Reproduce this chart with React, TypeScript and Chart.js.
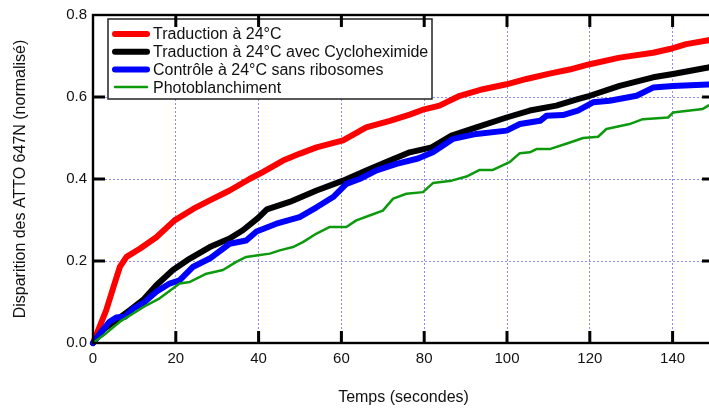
import React, { useEffect, useRef } from 'react';
import { Chart, registerables } from 'chart.js';

Chart.register(...registerables);

const FONT = '"Liberation Sans", Arial, Helvetica, sans-serif';

const seriesLabels = [
  'Traduction à 24°C',
  'Traduction à 24°C avec Cycloheximide',
  'Contrôle à 24°C sans ribosomes',
  'Photoblanchiment',
];
const seriesColors = ['#ff0000', '#000000', '#0000ff', '#0c990c'];
const seriesWidths = [6, 6, 6, 2.5];

const xTickStep = 20;
const xMin = 0;
const xMax = 150;
const yMin = 0;
const yMax = 0.8;
const yTickStep = 0.2;
const xTickValues = [20, 40, 60, 80, 100, 120, 140];
const yTickValues = [0.2, 0.4, 0.6];

const xTitle = 'Temps (secondes)';
const yTitle = 'Disparition des ATTO 647N (normalisé)';

const redT = [0, 1.6, 3.2, 5.2, 6.5, 8.1, 11.3, 15.3, 19.7, 24.2, 28.2, 33, 37.8, 41, 45.9, 50, 54, 60.4, 66, 71.7, 76.5, 80, 83.7, 88.6, 94.2, 99.9, 104.7, 110.3, 115.1, 120, 127.2, 135.3, 139.3, 143.3, 150];
const redV = [0, 0.04, 0.08, 0.145, 0.186, 0.21, 0.23, 0.258, 0.299, 0.327, 0.348, 0.372, 0.4, 0.417, 0.445, 0.462, 0.477, 0.494, 0.526, 0.542, 0.557, 0.57, 0.579, 0.603, 0.619, 0.631, 0.644, 0.657, 0.667, 0.68, 0.696, 0.708, 0.717, 0.729, 0.741];

const blackT = [0, 2.4, 5.6, 8.9, 12.1, 15.3, 19.3, 23.4, 28.2, 33, 36.2, 39.9, 42, 47.5, 54, 60.4, 66, 71.7, 76.5, 81.8, 86.6, 92.6, 99.9, 105.5, 111.9, 117.1, 120, 127.2, 135.3, 140.1, 148.6, 150];
const blackV = [0, 0.032, 0.056, 0.08, 0.105, 0.141, 0.178, 0.206, 0.234, 0.255, 0.275, 0.305, 0.326, 0.344, 0.372, 0.396, 0.421, 0.445, 0.465, 0.477, 0.506, 0.526, 0.55, 0.567, 0.579, 0.595, 0.603, 0.627, 0.648, 0.656, 0.672, 0.675];

const blueT = [0, 2.4, 4, 5.6, 7.7, 9.7, 12.1, 15.3, 18.5, 20.9, 24.2, 28.2, 33, 37, 39.5, 44.3, 49.9, 54, 58, 61.2, 64.4, 68.5, 73.3, 78.5, 82.1, 87, 92.6, 99.9, 103.1, 108, 109.5, 113.5, 117.1, 120.8, 124.8, 131.3, 135.3, 140.1, 150];
const blueV = [0, 0.032, 0.052, 0.062, 0.064, 0.084, 0.097, 0.125, 0.145, 0.153, 0.186, 0.206, 0.242, 0.25, 0.272, 0.291, 0.307, 0.331, 0.356, 0.388, 0.4, 0.421, 0.437, 0.45, 0.465, 0.498, 0.51, 0.518, 0.534, 0.542, 0.554, 0.556, 0.567, 0.587, 0.591, 0.603, 0.623, 0.627, 0.631];

const greenT = [0, 3.2, 6.5, 9.7, 12.9, 16.1, 19.3, 20.9, 23.4, 27.4, 31.4, 34.6, 37, 39.9, 42.7, 45.1, 48.3, 50.7, 54, 57.2, 61.2, 63.6, 66.8, 70, 72.5, 75.7, 79.7, 82.1, 86.6, 90.2, 93.4, 96.6, 100.6, 103.1, 105.5, 107.1, 110.3, 114.3, 118.4, 122, 124, 129.6, 132.8, 138.9, 140.1, 147.3, 148.6, 150];
const greenV = [0, 0.024, 0.052, 0.072, 0.092, 0.109, 0.133, 0.145, 0.149, 0.169, 0.178, 0.198, 0.21, 0.214, 0.218, 0.226, 0.234, 0.246, 0.267, 0.283, 0.283, 0.299, 0.311, 0.323, 0.352, 0.364, 0.368, 0.39, 0.396, 0.406, 0.422, 0.422, 0.441, 0.463, 0.465, 0.473, 0.473, 0.486, 0.5, 0.503, 0.522, 0.534, 0.546, 0.55, 0.562, 0.571, 0.579, 0.58];

const seriesT = [redT, blackT, blueT, greenT];
const seriesV = [redV, blackV, blueV, greenV];

const toPoints = (t: number[], v: number[]) => t.map((x, i) => ({ x, y: v[i] }));

function drawFrame(chart: any) {
  const ctx = chart.ctx;
  const a = chart.chartArea;
  const xs = chart.scales['x'];
  const ys = chart.scales['y'];
  const left = a.left, right = a.right, top = a.top, bottom = a.bottom;
  ctx.save();
  ctx.setLineDash([]);
  ctx.strokeStyle = '#000000';
  ctx.lineCap = 'butt';
  ctx.lineWidth = 3;
  const L = 12;
  for (let i = 0; i < xTickValues.length; i++) {
    const px = xs.getPixelForValue(xTickValues[i]);
    ctx.beginPath();
    ctx.moveTo(px, bottom);
    ctx.lineTo(px, bottom - L);
    ctx.moveTo(px, top);
    ctx.lineTo(px, top + L);
    ctx.stroke();
  }
  for (let i = 0; i < yTickValues.length; i++) {
    const py = ys.getPixelForValue(yTickValues[i]);
    ctx.beginPath();
    ctx.moveTo(left, py);
    ctx.lineTo(left + L, py);
    ctx.moveTo(right, py);
    ctx.lineTo(right - L, py);
    ctx.stroke();
  }
  ctx.lineWidth = 2.4;
  ctx.strokeRect(left, top, right - left, bottom - top);
  ctx.restore();
}

function drawLegend(chart: any) {
  const { ctx, chartArea: a } = chart;
  const bx = a.left + 15;
  const by = a.top + 4;
  const bw = 324;
  const bh = 80;
  ctx.save();
  ctx.setLineDash([]);
  ctx.fillStyle = '#ffffff';
  ctx.fillRect(bx, by, bw, bh);
  ctx.strokeStyle = '#222';
  ctx.lineWidth = 1.5;
  ctx.strokeRect(bx, by, bw, bh);
  ctx.font = `16px ${FONT}`;
  ctx.textBaseline = 'middle';
  ctx.textAlign = 'left';
  const order = [...chart.data.datasets].sort((p: any, q: any) => p.order0 - q.order0);
  order.forEach((ds: any, i: number) => {
    const y = by + 15 + i * 17.7;
    ctx.strokeStyle = ds.borderColor;
    ctx.lineWidth = ds.borderWidth;
    ctx.lineCap = 'round';
    ctx.beginPath();
    ctx.moveTo(bx + 7, y);
    ctx.lineTo(bx + 39, y);
    ctx.stroke();
    ctx.fillStyle = '#111';
    ctx.fillText(ds.label, bx + 45, y + 1);
  });
  ctx.restore();
}

const overlayPlugin = {
  id: 'overlay',
  afterDatasetsDraw(chart: any) {
    drawLegend(chart);
  },
  afterDraw(chart: any) {
    drawFrame(chart);
  },
};

export default function App() {
  const ref = useRef<HTMLCanvasElement | null>(null);

  useEffect(() => {
    if (!ref.current) return;
    const datasets = seriesLabels.map((label, i) => ({
      label,
      order0: i,
      data: toPoints(seriesT[i], seriesV[i]),
      borderColor: seriesColors[i],
      backgroundColor: seriesColors[i],
      borderWidth: seriesWidths[i],
      pointRadius: 0,
      tension: 0,
      fill: false,
      borderCapStyle: 'round',
      borderJoinStyle: 'round',
      clip: false,
    }));
    const chart = new Chart(ref.current, {
      type: 'line',
      data: { datasets: datasets.reverse() as any },
      options: {
        animation: false,
        responsive: true,
        maintainAspectRatio: false,
        layout: { padding: { left: 0, right: 16, top: 14, bottom: 0 } },
        plugins: {
          legend: { display: false },
          tooltip: { enabled: false },
        },
        scales: {
          x: {
            type: 'linear',
            min: xMin,
            max: xMax,
            ticks: {
              stepSize: xTickStep,
              includeBounds: false,
              padding: 7,
              maxRotation: 0,
              color: '#111',
              font: { family: FONT, size: 15 },
            },
            grid: { color: '#8c8cff', lineWidth: 1, drawTicks: false },
            border: { display: false, dash: [2, 2] },
            title: {
              display: true,
              text: xTitle,
              color: '#111',
              font: { family: FONT, size: 16 },
              padding: { top: 0, bottom: 2 },
            },
            afterFit: (s: any) => { s.height = 66; },
          },
          y: {
            type: 'linear',
            min: yMin,
            max: yMax,
            ticks: {
              stepSize: yTickStep,
              padding: 6,
              color: '#111',
              font: { family: FONT, size: 15 },
              callback: (v: any) => Number(v).toFixed(1),
            },
            grid: { color: '#8c8cff', lineWidth: 1, drawTicks: false },
            border: { display: false, dash: [2, 2] },
            title: {
              display: true,
              text: yTitle,
              color: '#111',
              font: { family: FONT, size: 16 },
              padding: { top: 11, bottom: 0 },
            },
            afterFit: (s: any) => { s.width = 93; },
          },
        },
      } as any,
      plugins: [overlayPlugin],
    });
    return () => chart.destroy();
  }, []);

  return (
    <div style={{ position: 'fixed', left: 0, top: 0, width: 709, height: 409, overflow: 'hidden', background: '#fff' }}>
      <div style={{ position: 'relative', width: 730, height: 409 }}>
        <canvas ref={ref} />
      </div>
    </div>
  );
}
